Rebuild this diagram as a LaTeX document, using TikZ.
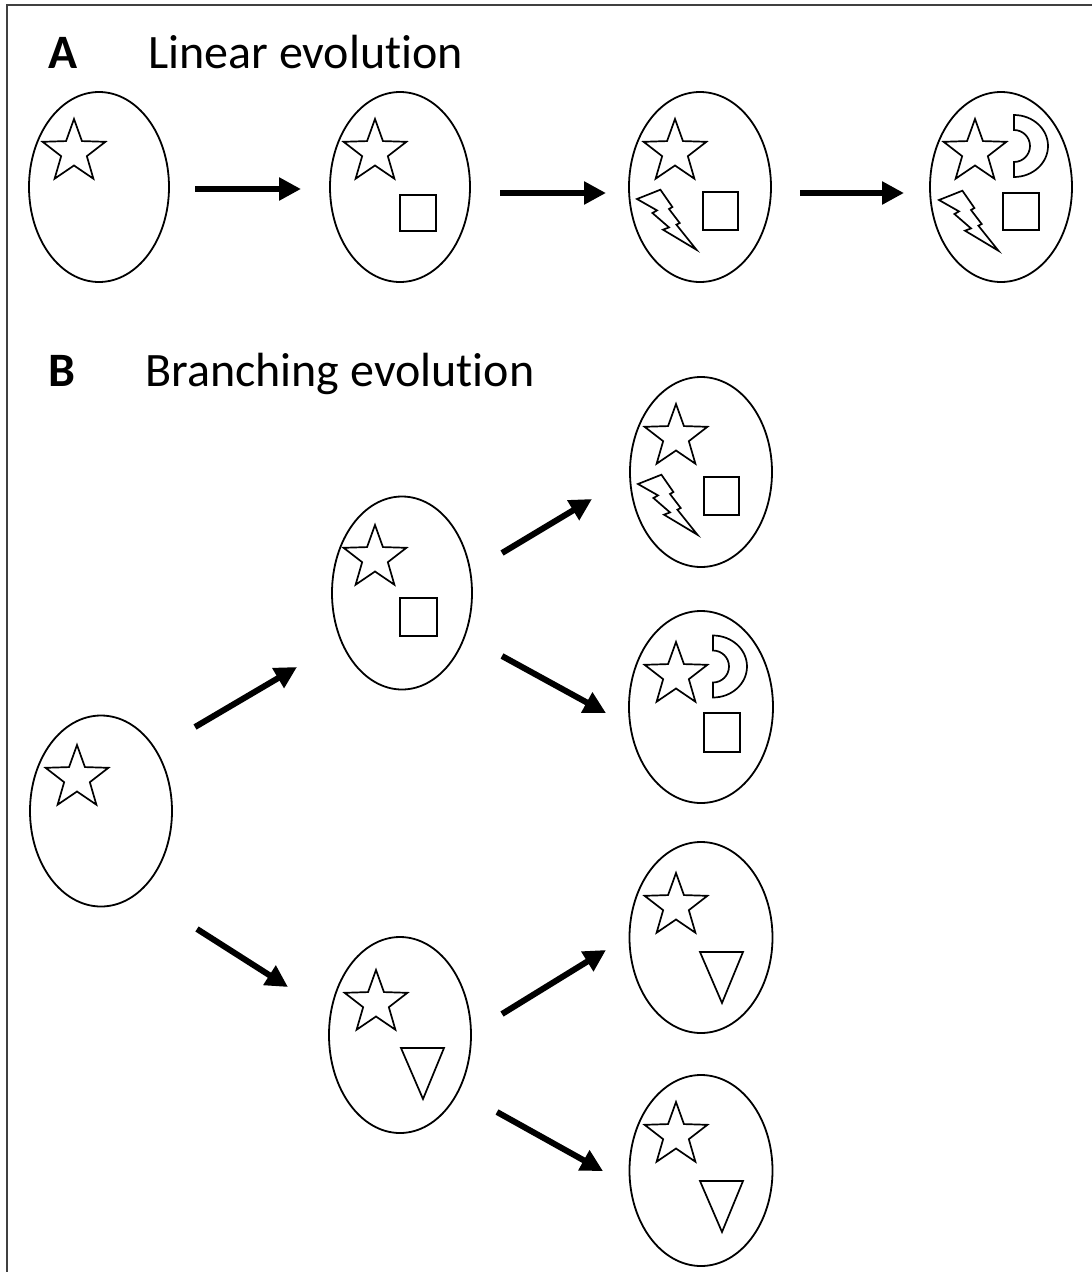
\documentclass[tikz,border=0pt]{standalone}
\usepackage{fontspec}
\setmainfont[Ligatures={NoCommon}]{Carlito}
\usetikzlibrary{arrows.meta,shapes.geometric}
\tikzset{
  x=1pt, y=-1pt,
  cell/.style={draw, ellipse, line width=1.8pt, inner sep=0pt},
  shp/.style={draw, line width=1.7pt, line join=miter},
  arr/.style={line width=6pt, -{Triangle[length=22pt,width=22pt]}},
  frame/.style={line width=2pt, draw=black!75},
  ttl/.style={inner sep=0pt, anchor=base west, font=\fontsize{48}{56}\selectfont},
  starpic/.pic={\draw[shp] (90:33pt) -- (126:13.5pt) -- (162:33pt) -- (198:13.5pt) -- (234:33pt) -- (270:13.5pt) -- (306:33pt) -- (342:13.5pt) -- (18:33pt) -- (54:13.5pt) -- cycle;},
  boltpic/.pic={\draw[shp] (0,0) -- (23.4,-9.3) -- (35.4,8) -- (32,10) -- (42.7,24) -- (39.4,25.7) -- (59.4,50.7) -- (26,30.7) -- (32,28.4) -- (15.4,14) -- (20,11.4) -- cycle;},
  halfpic/.pic={\draw[shp] (0,-31) arc[start angle=90, end angle=-90, x radius=34pt, y radius=31pt] -- (0,16) arc[start angle=-90, end angle=90, radius=16pt] -- cycle;},
  tripic/.pic={\draw[shp] (0,0) -- (43,0) -- (22,51) -- cycle;}
}
\begin{document}
\begin{tikzpicture}
\useasboundingbox (0,0) rectangle (1092,1272);
\fill[white] (0,0) rectangle (1092,1272);
% frame
\coordinate (f1) at (7,1272);
\coordinate (f2) at (7,5);
\coordinate (f3) at (1092,5);
\draw[frame] (f1) -- (f2) -- (f3);
% titles
\node[ttl] (la) at (48,68) {\textbf{A}};
\node[ttl] (ta) at (148,68) {Linear evolution};
\node[ttl] (lb) at (48,386) {\textbf{B}};
\node[ttl] (tb) at (145,386) {Branching evolution};
% panel A cells
\node[cell, minimum width=140pt, minimum height=190pt] (a1) at (99,187) {};
\node[cell, minimum width=140pt, minimum height=190pt] (a2) at (400,187) {};
\node[cell, minimum width=142pt, minimum height=190pt] (a3) at (700,187) {};
\node[cell, minimum width=142pt, minimum height=190pt] (a4) at (1001,187) {};
\pic at (74,152) {starpic};
\pic at (375,152) {starpic};
\draw[shp] (400,195) rectangle (436,231);
\pic at (675,152) {starpic};
\draw[shp] (703,192) rectangle (738,230);
\pic at (637,199) {boltpic};
\pic at (975,152) {starpic};
\pic at (1014,146) {halfpic};
\draw[shp] (1003,193) rectangle (1039,230);
\pic at (939,200) {boltpic};
% panel A arrows
\coordinate (p1s) at (195,189); \coordinate (p1e) at (301,189);
\coordinate (p2s) at (500,193); \coordinate (p2e) at (606,193);
\coordinate (p3s) at (800,193); \coordinate (p3e) at (904,193);
\draw[arr] (p1s) -- (p1e);
\draw[arr] (p2s) -- (p2e);
\draw[arr] (p3s) -- (p3e);
% panel B cells
\node[cell, minimum width=142pt, minimum height=191pt] (b1) at (101,811) {};
\node[cell, minimum width=140pt, minimum height=193pt] (b2) at (402,593) {};
\node[cell, minimum width=142pt, minimum height=196pt] (b3) at (400,1035) {};
\node[cell, minimum width=142pt, minimum height=190pt] (r1) at (701,472) {};
\node[cell, minimum width=144pt, minimum height=192pt] (r2) at (701,707) {};
\node[cell, minimum width=143pt, minimum height=191pt] (r3) at (701,937.5) {};
\node[cell, minimum width=143pt, minimum height=191pt] (r4) at (701,1170.5) {};
\pic at (77,778) {starpic};
\pic at (375,558) {starpic};
\draw[shp] (400,598) rectangle (437,636);
\pic at (376,1003) {starpic};
\pic at (401,1048) {tripic};
\pic at (676,437) {starpic};
\draw[shp] (704,477) rectangle (739,515);
\pic at (638,484) {boltpic};
\pic at (676,675) {starpic};
\pic at (713,666.5) {halfpic};
\draw[shp] (704,713) rectangle (740,752);
\pic at (676,906) {starpic};
\pic at (700,952) {tripic};
\pic at (676,1135) {starpic};
\pic at (700,1181) {tripic};
% panel B arrows
\coordinate (q1s) at (195,727); \coordinate (q1e) at (297,667);
\coordinate (q2s) at (197,929); \coordinate (q2e) at (288,987);
\coordinate (q3s) at (502,553); \coordinate (q3e) at (592,499);
\coordinate (q4s) at (502,656); \coordinate (q4e) at (606,713);
\coordinate (q5s) at (502,1014); \coordinate (q5e) at (606,950);
\coordinate (q6s) at (497,1112); \coordinate (q6e) at (603,1171);
\draw[arr] (q1s) -- (q1e);
\draw[arr] (q2s) -- (q2e);
\draw[arr] (q3s) -- (q3e);
\draw[arr] (q4s) -- (q4e);
\draw[arr] (q5s) -- (q5e);
\draw[arr] (q6s) -- (q6e);
\end{tikzpicture}
\end{document}
